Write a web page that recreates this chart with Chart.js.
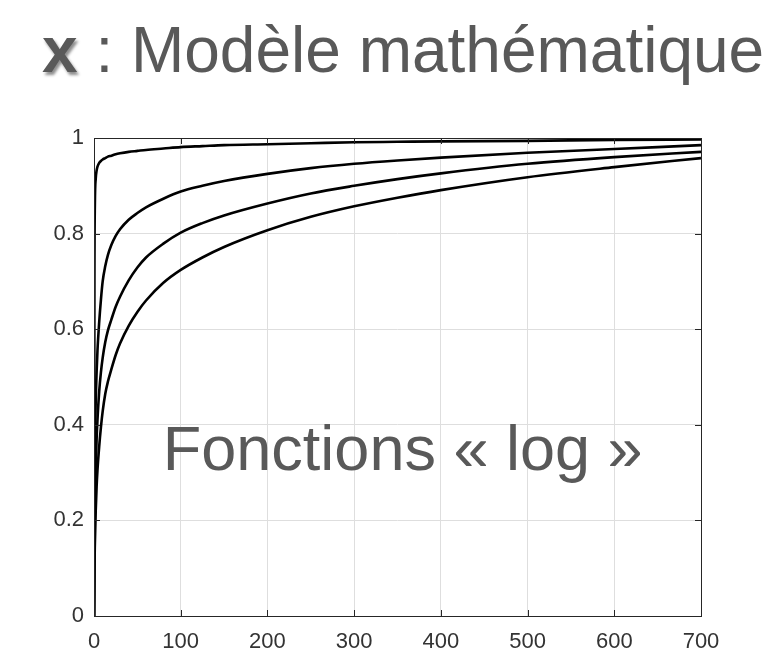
<!DOCTYPE html>
<html>
<head>
<meta charset="utf-8">
<script src="https://cdn.jsdelivr.net/npm/chart.js@4/dist/chart.umd.min.js"></script>
<style>
  html, body { margin: 0; padding: 0; background: #fff; }
  #wrap { position: relative; width: 769px; height: 658px; }
  #title {
    position: absolute; left: 42px; top: 18px;
    font-family: 'Liberation Sans', Arial, sans-serif;
    font-size: 64px; line-height: 64px; color: #595959; white-space: nowrap;
  }
  #title b { text-shadow: 2px 3px 3px rgba(0, 0, 0, 0.45); }
</style>
</head>
<body>
<div id="wrap">
  <canvas id="chart"></canvas>
  <div id="title"><b>x</b> : Modèle mathématique</div>
</div>
<script>
/* Shared x samples */
var xValues = [0, 0.5, 1, 2, 3, 4, 6, 8, 10, 13, 16, 20, 25, 30, 40, 50, 60, 80, 100, 125, 150, 200, 250, 300, 350, 400, 500, 600, 700];

/* Four "log-like" curves, top to bottom */
var curveA = [0, 0.70, 0.86, 0.915, 0.932, 0.940, 0.948, 0.952, 0.955, 0.958, 0.961, 0.963, 0.966, 0.968, 0.971, 0.973, 0.975, 0.978, 0.981, 0.983, 0.985, 0.987, 0.989, 0.991, 0.992, 0.993, 0.994, 0.996, 0.997];
var curveB = [0, 0.25, 0.35, 0.45, 0.51, 0.555, 0.615, 0.662, 0.700, 0.732, 0.755, 0.776, 0.795, 0.809, 0.829, 0.843, 0.855, 0.873, 0.888, 0.900, 0.910, 0.925, 0.937, 0.946, 0.953, 0.959, 0.969, 0.977, 0.985];
var curveC = [0, 0.15, 0.22, 0.31, 0.37, 0.41, 0.47, 0.51, 0.540, 0.573, 0.597, 0.620, 0.647, 0.668, 0.702, 0.729, 0.750, 0.779, 0.802, 0.822, 0.838, 0.863, 0.884, 0.900, 0.914, 0.926, 0.946, 0.960, 0.971];
var curveD = [0, 0.10, 0.15, 0.22, 0.27, 0.305, 0.355, 0.395, 0.428, 0.465, 0.490, 0.516, 0.546, 0.570, 0.607, 0.636, 0.660, 0.697, 0.724, 0.750, 0.772, 0.807, 0.835, 0.857, 0.875, 0.891, 0.918, 0.939, 0.958];

var xTicks = [0, 100, 200, 300, 400, 500, 600, 700];
var yTicks = [0, 0.2, 0.4, 0.6, 0.8, 1];

/* Text placed inside the axes, in data units */
var noteText = 'Fonctions \u00ab log \u00bb';
var notePos = { x: 356, y: 0.305 };

var TEXT_GREY = '#595959';
var AXIS_COLOUR = '#262626';
var GRID_COLOUR = '#dedede';
var FONT = "'Liberation Sans', Arial, sans-serif";

function toPoints(ys) {
  return xValues.map(function(x, i) { return { x: x, y: ys[i] }; });
}

function curve(ys) {
  return {
    data: toPoints(ys),
    borderColor: '#000',
    borderWidth: 2.6,
    pointRadius: 0,
    showLine: true,
    fill: false,
    cubicInterpolationMode: 'monotone'
  };
}

/* Box round the axes, with inward ticks on every side, and the note */
var boxPlugin = {
  id: 'box',
  afterDatasetsDraw: function(chart) {
    var ctx = chart.ctx;
    var a = chart.chartArea;
    var xs = chart.scales.x;
    var ys = chart.scales.y;
    var len = 6;
    ctx.save();
    ctx.strokeStyle = AXIS_COLOUR;
    ctx.lineWidth = 1;
    ctx.beginPath();
    xTicks.forEach(function(v) {
      var px = Math.round(xs.getPixelForValue(v)) + 0.5;
      ctx.moveTo(px, a.bottom); ctx.lineTo(px, a.bottom - len);
      ctx.moveTo(px, a.top); ctx.lineTo(px, a.top + len);
    });
    yTicks.forEach(function(v) {
      var py = Math.round(ys.getPixelForValue(v)) + 0.5;
      ctx.moveTo(a.left, py); ctx.lineTo(a.left + len, py);
      ctx.moveTo(a.right, py); ctx.lineTo(a.right - len, py);
    });
    ctx.stroke();
    ctx.strokeRect(Math.round(a.left) + 0.5, Math.round(a.top) + 0.5,
      Math.round(a.right - a.left), Math.round(a.bottom - a.top));
    ctx.restore();
  },
  afterDraw: function(chart) {
    var ctx = chart.ctx;
    ctx.save();
    ctx.fillStyle = TEXT_GREY;
    ctx.font = '63px ' + FONT;
    ctx.textAlign = 'center';
    ctx.textBaseline = 'alphabetic';
    ctx.fillText(noteText,
      chart.scales.x.getPixelForValue(notePos.x),
      chart.scales.y.getPixelForValue(notePos.y));
    ctx.restore();
  }
};

new Chart(document.getElementById('chart').getContext('2d'), {
  type: 'scatter',
  data: {
    datasets: [curve(curveA), curve(curveB), curve(curveC), curve(curveD)]
  },
  options: {
    responsive: true,
    maintainAspectRatio: false,
    animation: false,
    layout: { padding: { left: 40, right: 68, top: 138, bottom: 2 } },
    scales: {
      x: {
        type: 'linear',
        min: 0,
        max: 700,
        afterFit: function(s) { s.height = 40; },
        afterBuildTicks: function(s) { s.ticks = xTicks.map(function(v) { return { value: v }; }); },
        ticks: {
          padding: 13,
          color: '#333',
          font: { family: FONT, size: 22 }
        },
        grid: { color: GRID_COLOUR, drawTicks: false },
        border: { display: false }
      },
      y: {
        type: 'linear',
        min: 0,
        max: 1,
        afterFit: function(s) { s.width = 54; },
        afterBuildTicks: function(s) { s.ticks = yTicks.map(function(v) { return { value: v }; }); },
        ticks: {
          padding: 10,
          color: '#333',
          font: { family: FONT, size: 22 },
          callback: function(v) { return String(Math.round(v * 10) / 10); }
        },
        grid: { color: GRID_COLOUR, drawTicks: false },
        border: { display: false }
      }
    },
    plugins: {
      legend: { display: false },
      tooltip: { enabled: false }
    }
  },
  plugins: [boxPlugin]
});
</script>
</body>
</html>
